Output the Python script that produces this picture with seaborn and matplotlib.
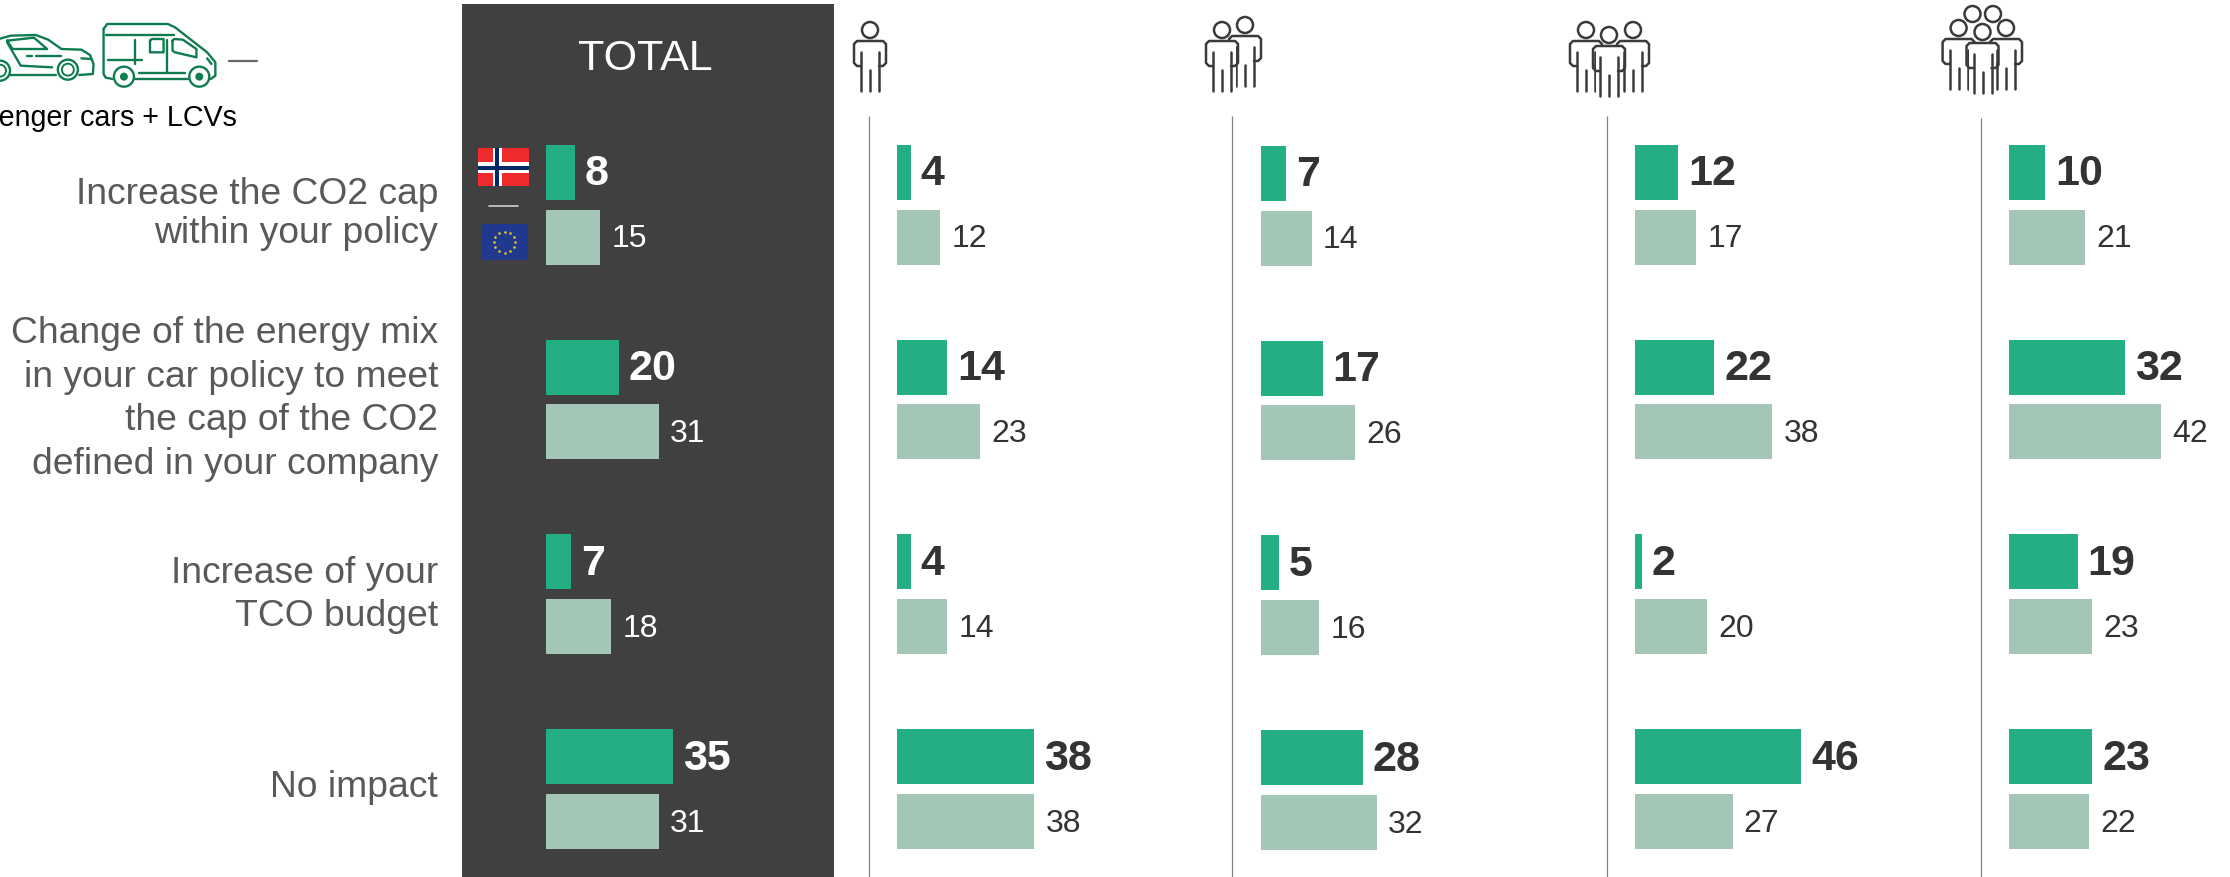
import matplotlib
matplotlib.use("Agg")
import matplotlib.pyplot as plt
from matplotlib.patches import Rectangle, Circle
import numpy as np
import pandas as pd
import seaborn as sns

# Survey answers, in percent, per fleet-size segment
categories = [
    "Increase the CO2 cap\nwithin your policy",
    "Change of the energy mix\nin your car policy to meet\nthe cap of the CO2\ndefined in your company",
    "Increase of your\nTCO budget",
    "No impact",
]
segments = ["TOTAL", "1", "2", "3", "4"]
norway_total = [8, 20, 7, 35]
norway_seg1 = [4, 14, 4, 38]
norway_seg2 = [7, 17, 5, 28]
norway_seg3 = [12, 22, 2, 46]
norway_seg4 = [10, 32, 19, 23]
europe_total = [15, 31, 18, 31]
europe_seg1 = [12, 23, 14, 38]
europe_seg2 = [14, 26, 16, 32]
europe_seg3 = [17, 38, 20, 27]
europe_seg4 = [21, 42, 23, 22]

norway_values = [norway_total, norway_seg1, norway_seg2, norway_seg3, norway_seg4]
europe_values = [europe_total, europe_seg1, europe_seg2, europe_seg3, europe_seg4]

W, H = 2230, 878
GREEN, PALE, DARK_PANEL, INK, LABEL_GREY = "#23AE84", "#A3C6B6", "#404040", "#333333", "#595959"
ICON_GREEN = "#0F7C50"
PX_PER_UNIT = 3.63

sns.set_theme(style="white")
plt.rcParams["font.family"] = ["Liberation Sans", "DejaVu Sans"]

fig = plt.figure(figsize=(W / 100, H / 100), dpi=100, facecolor="white")

# Page-level layer in pixel coordinates for the panel, rules, flags and icons
page = fig.add_axes([0, 0, 1, 1], zorder=0)
page.set_xlim(0, W)
page.set_ylim(H, 0)
page.axis("off")

page.add_patch(Rectangle((462, 5), 372, H - 5, color=DARK_PANEL, lw=0))
page.text(645, 59, "TOTAL", color="white", fontsize=31, ha="center", va="center")

for x, top in zip([869, 1232, 1607, 1981], [117, 117, 117, 119]):
    page.plot([x, x], [top, H], color="#808080", lw=0.9, solid_capstyle="butt")

# Row captions
caption_y = [214, 399, 595, 788]
caption_leading = [1.13, 1.33, 1.3, 1.3]
for text, y, leading in zip(categories, caption_y, caption_leading):
    page.text(438, y, text, color=LABEL_GREY, fontsize=26.8, ha="right", va="center",
              linespacing=leading, multialignment="right")

# Norwegian flag
page.add_patch(Rectangle((478, 149), 51, 38, color="#EF2B2D", lw=0))
page.add_patch(Rectangle((478, 163), 51, 11, color="white", lw=0))
page.add_patch(Rectangle((492.5, 149), 9, 38, color="white", lw=0))
page.add_patch(Rectangle((478, 166.5), 51, 4, color="#002868", lw=0))
page.add_patch(Rectangle((495, 149), 4, 38, color="#002868", lw=0))
page.plot([489, 518], [207, 207], color="#D0D0D0", lw=1.2)

# European flag with its ring of stars
page.add_patch(Rectangle((481, 225), 47, 36, color="#21388F", lw=0))
angles = np.deg2rad(np.arange(0, 360, 30))
page.scatter(504.5 + 10.5 * np.cos(angles), 243 + 10.5 * np.sin(angles),
             s=3.5, color="#E7C51E", lw=0, zorder=3)


def person(cx, cy, order, body=True):
    """Outline pictogram of a standing person, head centred at (cx, cy)."""
    line = dict(color="#3A3A3A", lw=1.8, solid_capstyle="round", solid_joinstyle="round", zorder=order + 1)
    page.add_patch(Circle((cx, cy), 8, fc="white", ec="#3A3A3A", lw=1.8, zorder=order + 1))
    if not body:
        return
    page.add_patch(Rectangle((cx - 13.5, cy + 11), 27, 50, fc="white", ec="none", zorder=order))
    outline = [(-9, 36), (-13, 36), (-16, 33), (-16, 14), (-13, 11),
               (13, 11), (16, 14), (16, 33), (13, 36), (9, 36)]
    page.plot([cx + p[0] for p in outline], [cy + p[1] for p in outline], **line)
    for dx, start in [(-9, 22), (9, 22), (0, 40)]:
        page.plot([cx + dx, cx + dx], [cy + start, cy + 61], **line)


person(870, 31, 2)
person(1245, 26, 2)
person(1222, 31, 4)
person(1586, 31, 2)
person(1633, 31, 2)
person(1609, 36, 4)
person(1972.5, 15, 2, body=False)
person(1993, 15, 2, body=False)
person(1958.6, 29, 2)
person(2006, 29, 2)
person(1982.5, 33, 4)


def stroke(points, lw=1.7):
    xs = [p[0] / 2.8 for p in points]
    ys = [p[1] / 3 for p in points]
    page.plot(xs, ys, color=ICON_GREEN, lw=lw, solid_capstyle="round", solid_joinstyle="round")


def wheel(x, y, dot=False):
    page.add_patch(Circle((x / 2.8, y / 3), 10, fc="white", ec=ICON_GREEN, lw=1.7, zorder=3))
    page.add_patch(Circle((x / 2.8, y / 3), 6 if not dot else 3,
                          fc=ICON_GREEN if dot else "white",
                          ec=ICON_GREEN, lw=1.4, zorder=3))


# Car, running off the left edge of the page
stroke([(-20, 125), (30, 110), (100, 108), (135, 122), (172, 150), (228, 152), (252, 168),
        (262, 195), (260, 225), (222, 228)])
stroke([(158, 228), (25, 228)])
stroke([(20, 130), (58, 200), (146, 205)])
stroke([(20, 125), (95, 116), (132, 150), (35, 150), (20, 125)])
stroke([(75, 170), (90, 170)])
stroke([(100, 170), (170, 170)])
stroke([(228, 178), (255, 180)])
wheel(190, 212)
wheel(0, 215)

# Van
stroke([(290, 90), (300, 75), (470, 75), (490, 85), (580, 160), (603, 190), (603, 230),
        (590, 240)])
stroke([(525, 240), (378, 240)])
stroke([(315, 240), (296, 236), (290, 225), (290, 90)])
stroke([(297, 108), (488, 108)])
stroke([(378, 122), (378, 195)])
stroke([(302, 182), (398, 182)])
stroke([(420, 125), (425, 120), (458, 120), (458, 160), (420, 160), (420, 125)])
stroke([(468, 122), (468, 220)])
stroke([(483, 125), (488, 120), (512, 122), (550, 150), (550, 175), (490, 160), (483, 155), (483, 125)])
stroke([(388, 222), (518, 222)])
stroke([(580, 178), (592, 195)])
wheel(558, 233, dot=True)
wheel(347, 233, dot=True)

page.plot([229, 257], [62, 62], color="#666666", lw=1.6)
page.text(237, 118, "Passenger cars + LCVs", color="black", fontsize=20.6, ha="right", va="center")

# One bar axes per segment, all sharing the same units-to-pixels ratio
bar_left = [546, 896.5, 1261, 1634.5, 2009]
row_offset = [0, 0, 1, 0, 0]
AX_TOP = 117
for seg, left, shift, no_vals, eu_vals in zip(segments, bar_left, row_offset, norway_values, europe_values):
    width_px = min(320, W - left)
    ax = fig.add_axes([left / W, 0, width_px / W, (H - AX_TOP) / H], zorder=5)
    ax.patch.set_alpha(0)
    frame = pd.DataFrame({
        "answer": categories * 2,
        "value": no_vals + eu_vals,
        "region": ["Norway"] * 4 + ["Europe"] * 4,
    })
    sns.barplot(data=frame, y="answer", x="value", hue="region", hue_order=["Norway", "Europe"],
                palette=[GREEN, PALE], saturation=1, width=2 / 3, gap=0.154, dodge=True,
                legend=False, errorbar=None, linewidth=0, ax=ax)
    ax.set_xlim(0, width_px / PX_PER_UNIT)
    first, spacing = 205.7 + shift, 194.8
    ax.set_ylim((H - first) / spacing, (AX_TOP - first) / spacing)
    ink = "white" if seg == "TOTAL" else INK
    bold = ax.bar_label(ax.containers[0], fmt="%g", padding=7, color=ink, fontsize=31, fontweight="bold")
    plain = ax.bar_label(ax.containers[1], fmt="%g", padding=8, color=ink, fontsize=23)
    # Nudge the numbers down slightly so the digits sit on the bar's centre line
    for label in list(bold) + list(plain):
        label.xyann = (label.xyann[0], label.xyann[1] - 0.8)
    ax.axis("off")

fig.savefig("out.png", dpi=100, facecolor="white")
